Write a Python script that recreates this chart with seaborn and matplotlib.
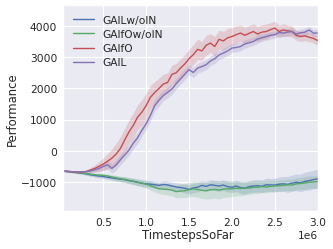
import numpy as np
import pandas as pd
import matplotlib
matplotlib.use("Agg")
import matplotlib.pyplot as plt
import seaborn as sns

# ---- data ----
steps = [0.03, 0.10, 0.15, 0.20, 0.25, 0.30, 0.35, 0.40, 0.45, 0.50,
         0.55, 0.60, 0.65, 0.70, 0.75, 0.80, 0.85, 0.90, 0.95, 1.00,
         1.05, 1.10, 1.15, 1.20, 1.25, 1.30, 1.35, 1.40, 1.45, 1.50,
         1.55, 1.60, 1.65, 1.70, 1.75, 1.80, 1.85, 1.90, 1.95, 2.00,
         2.05, 2.10, 2.15, 2.20, 2.25, 2.30, 2.35, 2.40, 2.45, 2.50,
         2.55, 2.60, 2.65, 2.70, 2.75, 2.80, 2.85, 2.90, 2.95, 3.00]  # x 1e6

gail_woin = [-640, -660, -675, -690, -710, -730, -760, -780, -800, -815,
             -840, -860, -880, -900, -915, -950, -970, -1000, -1030, -1050,
             -1060, -1080, -1100, -1070, -1085, -1120, -1150, -1170, -1190, -1230,
             -1180, -1160, -1100, -1130, -1080, -1100, -1120, -1090, -1140, -1160,
             -1120, -1170, -1190, -1140, -1120, -1110, -1130, -1080, -1085, -1090,
             -1060, -1050, -1070, -1030, -1000, -1020, -970, -950, -915, -890]
gaifo_woin = [-640, -660, -675, -690, -705, -720, -740, -760, -770, -780,
              -800, -830, -860, -890, -915, -940, -970, -1000, -1030, -1060,
              -1110, -1160, -1210, -1220, -1230, -1250, -1300, -1280, -1270, -1240,
              -1210, -1230, -1260, -1270, -1240, -1230, -1250, -1220, -1210, -1210,
              -1190, -1200, -1180, -1190, -1160, -1160, -1140, -1150, -1130, -1120,
              -1110, -1100, -1080, -1090, -1050, -1040, -1020, -1000, -990, -980]
gaifo = [-640, -655, -665, -675, -670, -660, -610, -560, -490, -420,
         -330, -230, -100, 80, 350, 610, 820, 1080, 1240, 1450,
         1720, 1870, 2000, 2140, 2190, 2450, 2500, 2650, 2780, 2950,
         3080, 3250, 3200, 3380, 3450, 3340, 3570, 3520, 3620, 3660,
         3720, 3770, 3700, 3760, 3820, 3740, 3800, 3820, 3880, 3930,
         3820, 3870, 3840, 3820, 3700, 3660, 3680, 3640, 3600, 3530]
gail = [-640, -655, -665, -675, -670, -660, -640, -600, -560, -495,
        -440, -560, -450, -280, -130, 30, 250, 420, 660, 870,
        1140, 1450, 1620, 1770, 1870, 1980, 2150, 2300, 2450, 2600,
        2510, 2650, 2700, 2760, 2880, 2950, 3070, 3130, 3200, 3290,
        3310, 3340, 3420, 3460, 3500, 3580, 3620, 3660, 3700, 3720,
        3790, 3770, 3800, 3820, 3740, 3780, 3800, 3870, 3770, 3770]

gail_woin_sd = [20, 25, 30, 35, 40, 45, 50, 55, 60, 65,
                70, 75, 80, 85, 90, 95, 100, 100, 100, 100,
                110, 110, 110, 120, 120, 120, 130, 130, 140, 150,
                150, 150, 150, 160, 160, 160, 170, 170, 170, 170,
                180, 180, 190, 190, 200, 200, 200, 210, 210, 220,
                230, 240, 250, 260, 270, 280, 290, 300, 300, 300]
gaifo_woin_sd = [20, 25, 30, 35, 40, 45, 50, 55, 60, 65,
                 70, 75, 80, 85, 90, 95, 100, 110, 120, 130,
                 140, 150, 160, 170, 180, 190, 200, 210, 220, 230,
                 240, 250, 260, 270, 280, 280, 280, 270, 260, 250,
                 240, 230, 220, 210, 200, 200, 190, 190, 180, 180,
                 180, 180, 180, 180, 190, 190, 200, 200, 200, 200]
gaifo_sd = [20, 25, 30, 35, 40, 60, 80, 110, 150, 200,
            250, 300, 350, 380, 380, 380, 400, 400, 400, 400,
            380, 350, 330, 320, 300, 300, 300, 300, 300, 300,
            320, 330, 300, 320, 300, 320, 300, 300, 300, 280,
            280, 260, 260, 250, 250, 240, 240, 240, 220, 220,
            200, 200, 180, 180, 160, 160, 150, 150, 150, 150]
gail_sd = [20, 25, 30, 35, 40, 50, 60, 80, 100, 120,
           140, 150, 160, 170, 170, 170, 180, 180, 180, 180,
           180, 180, 180, 170, 170, 170, 170, 170, 160, 160,
           160, 160, 160, 160, 150, 150, 150, 150, 150, 140,
           140, 140, 130, 130, 130, 130, 120, 120, 120, 120,
           120, 120, 120, 120, 120, 120, 120, 120, 120, 120]

names = ["GAILw/oIN", "GAIfOw/oIN", "GAIfO", "GAIL"]
means = [gail_woin, gaifo_woin, gaifo, gail]
sds = [gail_woin_sd, gaifo_woin_sd, gaifo_sd, gail_sd]
colors = ["#4C72B0", "#55A868", "#C44E52", "#8172B2"]

rows = []
for n, m, s in zip(names, means, sds):
    for x, v, d in zip(steps, m, s):
        rows.append({"TimestepsSoFar": x * 1e6, "Performance": v, "sd": d, "algo": n})
df = pd.DataFrame(rows)

sns.set_theme(style="darkgrid")
plt.rcParams['font.family'] = ['DejaVu Sans']

fig = plt.figure(figsize=(4.0, 3.0), dpi=83.25)
ax = fig.add_axes([0.189, 0.152, 0.765, 0.824])

sns.lineplot(data=df, x="TimestepsSoFar", y="Performance", hue="algo",
             hue_order=names, palette=colors, ax=ax, linewidth=1.2, errorbar=None)
for n, c in zip(names, colors):
    sub = df[df["algo"] == n]
    ax.fill_between(sub["TimestepsSoFar"], sub["Performance"] - sub["sd"],
                    sub["Performance"] + sub["sd"], color=c, alpha=0.2, linewidth=0)

ax.set_xlim(0.03e6, 3.0e6)
ax.set_ylim(-1920, 4660)
ax.set_xticks([0.5e6, 1.0e6, 1.5e6, 2.0e6, 2.5e6, 3.0e6])
ax.set_yticks([-1000, 0, 1000, 2000, 3000, 4000])
ax.tick_params(labelsize=9.2, pad=5, length=0)
ax.set_xlabel("TimestepsSoFar", fontsize=10.1)
ax.set_ylabel("Performance", fontsize=10.1)
ax.yaxis.set_label_coords(-0.172, 0.5)
ax.xaxis.set_label_coords(0.49, -0.082)
ax.xaxis.get_offset_text().set_fontsize(9.2)
leg = ax.legend(loc="upper left", frameon=False, fontsize=9.2, title=None,
                handlelength=2.0, labelspacing=0.4)

fig.savefig("out.png", dpi=83.25)
